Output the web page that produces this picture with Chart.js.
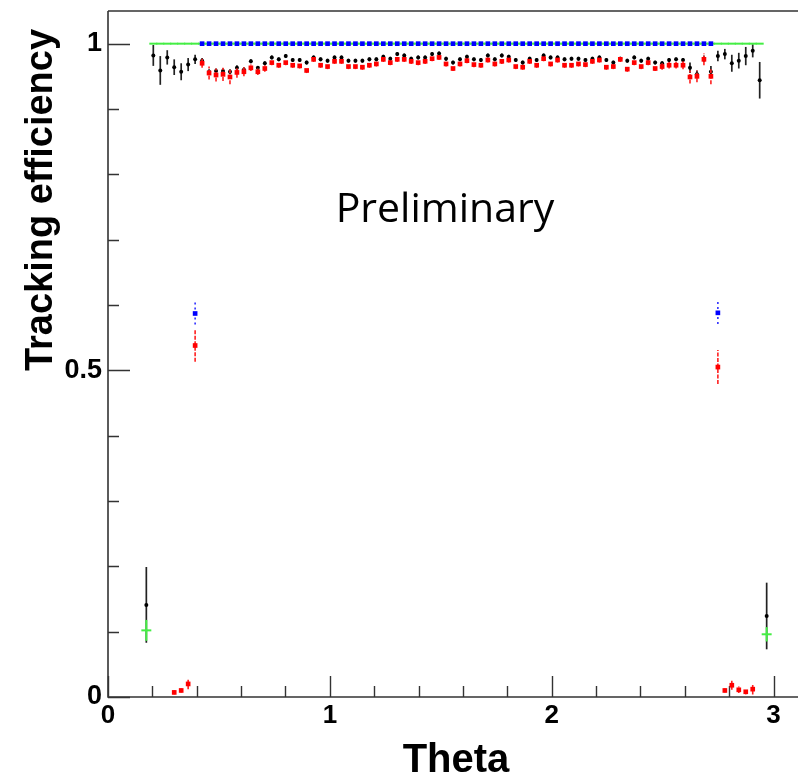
<!DOCTYPE html>
<html>
<head>
<meta charset="utf-8">
<script src="https://cdn.jsdelivr.net/npm/chart.js@4.4.1/dist/chart.umd.min.js"></script>
<style>
  html, body { margin: 0; padding: 0; background: #fff; overflow: hidden; }
  #wrap { width: 810px; height: 778px; }
</style>
</head>
<body>
<div id="wrap"><canvas id="myChart" width="810" height="778"></canvas></div>
<script>
// binning: 100 bins in theta from 0 to pi
const nBins = 100;
const thetaMax = Math.PI;

// green (cross markers + bin-width bars), first bin = 5
const greenFirstBin = 5;
const greenValues = [
  0.102,
  1, 1, 1, 1, 1, 1, 1, 1, 1, 1, 1, 1, 1, 1, 1, 1, 1, 1, 1, 1, 1, 1,
  1, 1, 1, 1, 1, 1, 1, 1, 1, 1, 1, 1, 1, 1, 1, 1, 1, 1, 1, 1, 1, 1,
  1, 1, 1, 1, 1, 1, 1, 1, 1, 1, 1, 1, 1, 1, 1, 1, 1, 1, 1, 1, 1, 1,
  1, 1, 1, 1, 1, 1, 1, 1, 1, 1, 1, 1, 1, 1, 1, 1, 1, 1, 1, 1, 1, 1,
  0.096,
];
const greenErrBins = [5, 94];
const greenErrs = [0.016, 0.011];

// blue, first bin = 12
const blueFirstBin = 12;
const blueValues = [
  0.587,
  1, 1, 1, 1, 1, 1, 1, 1, 1, 1, 1, 1, 1, 1, 1, 1, 1, 1, 1, 1, 1, 1, 1, 1, 1,
  1, 1, 1, 1, 1, 1, 1, 1, 1, 1, 1, 1, 1, 1, 1, 1, 1, 1, 1, 1, 1, 1, 1, 1, 1,
  1, 1, 1, 1, 1, 1, 1, 1, 1, 1, 1, 1, 1, 1, 1, 1, 1, 1, 1, 1, 1, 1, 1, 1,
  0.588,
];
const blueErrBins = [12, 87];
const blueErrs = [0.017, 0.017];

// black, first bin = 5
const blackFirstBin = 5;
const blackValues = [
  0.141, 0.982, 0.959, 0.979, 0.964, 0.957, 0.968, 0.976, 0.974, 0.957,
  0.958, 0.958, 0.957, 0.963, 0.960, 0.973, 0.963, 0.970, 0.979, 0.976,
  0.981, 0.975, 0.975, 0.971, 0.979, 0.976, 0.974, 0.979, 0.979, 0.974,
  0.974, 0.974, 0.976, 0.976, 0.980, 0.977, 0.984, 0.982, 0.977, 0.979,
  0.979, 0.984, 0.985, 0.977, 0.971, 0.976, 0.980, 0.976, 0.975, 0.982,
  0.976, 0.982, 0.980, 0.975, 0.971, 0.977, 0.975, 0.982, 0.979, 0.979,
  0.976, 0.977, 0.977, 0.975, 0.977, 0.979, 0.975, 0.971, 0.977, 0.974,
  0.979, 0.974, 0.977, 0.971, 0.970, 0.975, 0.976, 0.975, 0.963, 0.953,
  0.977, 0.957, 0.981, 0.984, 0.970, 0.974, 0.981, 0.989, 0.944, 0.124,
];
const blackErrors = [
  0.058, 0.016, 0.022, 0.011, 0.012, 0.013, 0.010, 0.007, 0.004, 0.004,
  0.004, 0.004, 0.004, 0.004, 0.004, 0.003, 0.003, 0.003, 0.003, 0.003,
  0.003, 0.003, 0.003, 0.003, 0.003, 0.003, 0.003, 0.003, 0.003, 0.003,
  0.003, 0.003, 0.003, 0.003, 0.003, 0.003, 0.003, 0.003, 0.003, 0.003,
  0.003, 0.003, 0.003, 0.003, 0.003, 0.003, 0.003, 0.003, 0.003, 0.003,
  0.003, 0.003, 0.003, 0.003, 0.003, 0.003, 0.003, 0.003, 0.003, 0.003,
  0.003, 0.003, 0.003, 0.003, 0.003, 0.003, 0.003, 0.003, 0.003, 0.003,
  0.003, 0.003, 0.003, 0.003, 0.003, 0.003, 0.003, 0.003, 0.008, 0.006,
  0.005, 0.009, 0.008, 0.008, 0.013, 0.012, 0.014, 0.010, 0.028, 0.051,
];

// red, first bin = 9
const redFirstBin = 9;
const redValues = [
  0.007, 0.010, 0.020, 0.538,
  0.970, 0.955, 0.952, 0.953, 0.949, 0.956, 0.957, 0.963, 0.957, 0.962,
  0.971, 0.967, 0.971, 0.967, 0.966, 0.959, 0.976, 0.967, 0.965, 0.973,
  0.973, 0.965, 0.965, 0.964, 0.967, 0.969, 0.976, 0.971, 0.976, 0.976,
  0.973, 0.971, 0.973, 0.977, 0.979, 0.969, 0.962, 0.969, 0.974, 0.968,
  0.967, 0.975, 0.969, 0.973, 0.975, 0.965, 0.964, 0.973, 0.967, 0.977,
  0.969, 0.975, 0.967, 0.967, 0.969, 0.968, 0.973, 0.975, 0.964, 0.965,
  0.976, 0.961, 0.971, 0.965, 0.971, 0.962, 0.965, 0.967, 0.967, 0.967,
  0.949, 0.950, 0.976, 0.950,
  0.505, 0.010, 0.018, 0.011, 0.008, 0.012,
];
const redErrors = [
  0.003, 0.003, 0.008, 0.025,
  0.007, 0.010, 0.010, 0.010, 0.011, 0.008, 0.007, 0.005, 0.005, 0.005,
  0.004, 0.004, 0.004, 0.004, 0.004, 0.004, 0.004, 0.004, 0.004, 0.004,
  0.004, 0.004, 0.004, 0.004, 0.004, 0.004, 0.004, 0.004, 0.004, 0.004,
  0.004, 0.004, 0.004, 0.004, 0.004, 0.004, 0.004, 0.004, 0.004, 0.004,
  0.004, 0.004, 0.004, 0.004, 0.004, 0.004, 0.004, 0.004, 0.004, 0.004,
  0.004, 0.004, 0.004, 0.004, 0.004, 0.004, 0.004, 0.004, 0.004, 0.004,
  0.004, 0.004, 0.004, 0.004, 0.004, 0.004, 0.005, 0.005, 0.005, 0.006,
  0.010, 0.009, 0.009, 0.012,
  0.026, 0.003, 0.007, 0.005, 0.004, 0.008,
];

// axis ticks and labels
const xMajorTicks = [0, 1, 2, 3];
const xTickLabels = ["0", "1", "2", "3"];
const yMajorTicks = [0, 0.5, 1];
const yTickLabels = ["0", "0.5", "1"];
const xTitle = "Theta";
const yTitle = "Tracking efficiency";
const stamp = "Preliminary";

function toPoints(firstBin, values) {
  return values.map((v, i) => ({ x: (firstBin + i + 0.5) * thetaMax / nBins, y: v }));
}

function sparseErrors(firstBin, count, bins, errs) {
  const out = new Array(count).fill(0);
  bins.forEach((b, k) => { out[b - firstBin] = errs[k]; });
  return out;
}

// vertical error bars (and optional bin-width bars) drawn under each dataset
const errorBars = {
  id: "errorBars",
  beforeDatasetDraw(chart, args) {
    const ds = chart.data.datasets[args.index];
    if (!ds.errors) return;
    const ctx = chart.ctx;
    const xs = chart.scales.x;
    const ys = chart.scales.y;
    const halfBin = (xs.getPixelForValue(thetaMax / nBins) - xs.getPixelForValue(0)) / 2;
    ctx.save();
    ctx.strokeStyle = ds.errorColor;
    ctx.lineWidth = ds.errorWidth;
    ds.data.forEach((p, i) => {
      const px = xs.getPixelForValue(p.x);
      const py = ys.getPixelForValue(p.y);
      const e = ds.errors[i];
      if (ds.binBars) {
        const w = e > 0 ? halfBin + 1.5 : halfBin + 0.5;
        ctx.setLineDash([]);
        ctx.beginPath();
        ctx.moveTo(px - w, py);
        ctx.lineTo(px + w, py);
        ctx.stroke();
      }
      if (e > 0) {
        ctx.setLineDash(ds.errorDash || []);
        ctx.beginPath();
        ctx.moveTo(px, ys.getPixelForValue(p.y - e));
        ctx.lineTo(px, ys.getPixelForValue(p.y + e));
        ctx.stroke();
      }
    });
    ctx.restore();
  },
};

// ROOT-style frame with inward ticks, tick labels and titles
const rootFrame = {
  id: "rootFrame",
  beforeDatasetsDraw(chart) {
    const ctx = chart.ctx;
    const a = chart.chartArea;
    const xs = chart.scales.x;
    const ys = chart.scales.y;
    ctx.save();
    ctx.strokeStyle = "#333";
    ctx.lineWidth = 1.6;
    ctx.beginPath();
    ctx.moveTo(a.left, a.top);
    ctx.lineTo(a.right, a.top);
    ctx.moveTo(a.left, a.top);
    ctx.lineTo(a.left, a.bottom);
    ctx.lineTo(a.right, a.bottom);
    ctx.stroke();

    ctx.lineWidth = 1.4;
    ctx.beginPath();
    for (let k = 0; k <= 15; k++) {
      const v = k * 0.2;
      const px = Math.round(xs.getPixelForValue(v)) + 0.5;
      const len = (k % 5 === 0) ? 21 : 11;
      ctx.moveTo(px, a.bottom);
      ctx.lineTo(px, a.bottom - len);
    }
    for (let k = 0; k <= 10; k++) {
      const v = k * 0.1;
      const py = Math.round(ys.getPixelForValue(v)) + 0.5;
      const len = (k % 5 === 0) ? 22 : 11;
      ctx.moveTo(a.left, py);
      ctx.lineTo(a.left + len, py);
    }
    ctx.stroke();
    ctx.restore();
  },
  afterDraw(chart) {
    const ctx = chart.ctx;
    const a = chart.chartArea;
    const xs = chart.scales.x;
    const ys = chart.scales.y;
    ctx.save();
    ctx.fillStyle = "#000";
    ctx.font = "bold 26px 'Liberation Sans', Arial, sans-serif";
    ctx.textAlign = "center";
    ctx.textBaseline = "top";
    xMajorTicks.forEach((v, i) => {
      ctx.fillText(xTickLabels[i], xs.getPixelForValue(v), a.bottom + 6);
    });
    ctx.textAlign = "right";
    ctx.textBaseline = "middle";
    ctx.font = "bold 27px 'Liberation Sans', Arial, sans-serif";
    yMajorTicks.forEach((v, i) => {
      ctx.fillText(yTickLabels[i], a.left - 6, ys.getPixelForValue(v));
    });

    ctx.font = "bold 40px 'Liberation Sans', Arial, sans-serif";
    ctx.textAlign = "center";
    ctx.textBaseline = "alphabetic";
    ctx.fillText(xTitle, 456, 772);

    ctx.save();
    ctx.translate(52, 200);
    ctx.rotate(-Math.PI / 2);
    ctx.font = "bold 38px 'Liberation Sans', Arial, sans-serif";
    ctx.fillText(yTitle, 0, 0);
    ctx.restore();

    ctx.font = "41px 'Open Sans', 'Noto Sans', sans-serif";
    ctx.fillText(stamp, 445, 222);
    ctx.restore();
  },
};

const green = toPoints(greenFirstBin, greenValues);
const blue = toPoints(blueFirstBin, blueValues);
const black = toPoints(blackFirstBin, blackValues);
const red = toPoints(redFirstBin, redValues);

const myChart = new Chart("myChart", {
  type: "scatter",
  data: {
    datasets: [
      {
        label: "red",
        data: red,
        errors: redErrors,
        errorColor: "#ff2020",
        errorWidth: 1.6,
        errorDash: [4, 1.5],
        pointStyle: "rect",
        pointRadius: 3.3,
        backgroundColor: "#ff0000",
        borderWidth: 0,
        order: 0,
      },
      {
        label: "blue",
        data: blue,
        errors: sparseErrors(blueFirstBin, blueValues.length, blueErrBins, blueErrs),
        errorColor: "#2020ff",
        errorWidth: 1.5,
        errorDash: [2, 3],
        pointStyle: "rect",
        pointRadius: 3.3,
        backgroundColor: "#0000ff",
        borderWidth: 0,
        order: 1,
      },
      {
        label: "green",
        data: green,
        errors: sparseErrors(greenFirstBin, greenValues.length, greenErrBins, greenErrs),
        binBars: true,
        errorColor: "#44ee44",
        errorWidth: 2,
        pointRadius: 0,
        order: 2,
      },
      {
        label: "black",
        data: black,
        errors: blackErrors,
        errorColor: "#222",
        errorWidth: 1.7,
        pointStyle: "circle",
        pointRadius: 2,
        backgroundColor: "#000",
        borderWidth: 0,
        order: 3,
      },
    ],
  },
  options: {
    responsive: false,
    animation: false,
    layout: { padding: { left: 108, top: 11, right: 5, bottom: 81 } },
    scales: {
      x: { type: "linear", min: 0, max: thetaMax, display: false },
      y: { type: "linear", min: 0, max: 1.05, display: false },
    },
    plugins: {
      legend: { display: false },
      tooltip: { enabled: false },
    },
  },
  plugins: [errorBars, rootFrame],
});
</script>
</body>
</html>
